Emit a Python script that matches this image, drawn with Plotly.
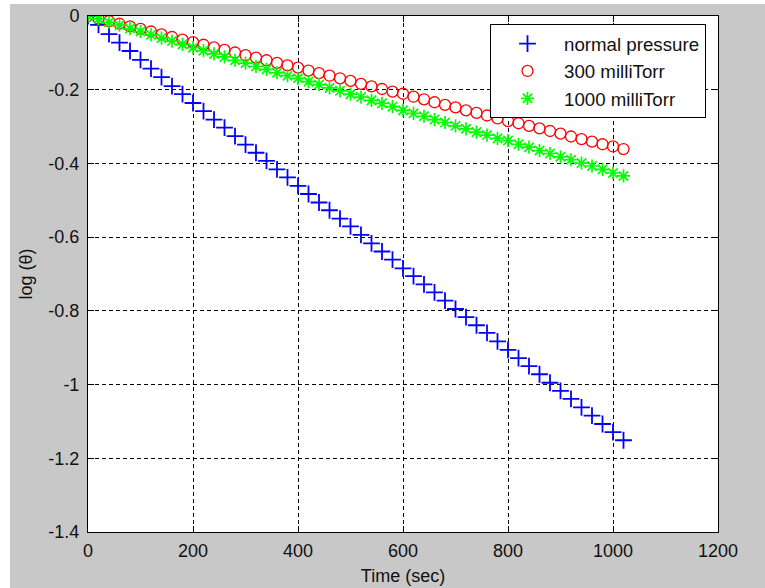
import plotly.graph_objects as go

# ---- data ----
time_sec = [0, 20, 40, 60, 80, 100, 120, 140, 160, 180,
            200, 220, 240, 260, 280, 300, 320, 340, 360, 380,
            400, 420, 440, 460, 480, 500, 520, 540, 560, 580,
            600, 620, 640, 660, 680, 700, 720, 740, 760, 780,
            800, 820, 840, 860, 880, 900, 920, 940, 960, 980,
            1000, 1020]

normal_pressure = [0.000, -0.024, -0.049, -0.072, -0.095, -0.119, -0.143, -0.166, -0.190, -0.212,
                   -0.236, -0.258, -0.281, -0.303, -0.326, -0.349, -0.371, -0.393, -0.416, -0.438,
                   -0.461, -0.483, -0.506, -0.527, -0.550, -0.571, -0.594, -0.617, -0.639, -0.661,
                   -0.685, -0.706, -0.728, -0.750, -0.772, -0.795, -0.817, -0.839, -0.860, -0.883,
                   -0.906, -0.928, -0.950, -0.972, -0.995, -1.017, -1.039, -1.062, -1.084, -1.107,
                   -1.129, -1.151]

milli_300 = [0.000, -0.007, -0.014, -0.021, -0.028, -0.035, -0.042, -0.050, -0.057, -0.064,
             -0.071, -0.078, -0.085, -0.092, -0.099, -0.106, -0.113, -0.120, -0.127, -0.134,
             -0.140, -0.148, -0.155, -0.162, -0.169, -0.176, -0.184, -0.191, -0.198, -0.205,
             -0.211, -0.219, -0.226, -0.234, -0.241, -0.248, -0.256, -0.263, -0.270, -0.278,
             -0.285, -0.291, -0.298, -0.305, -0.312, -0.319, -0.327, -0.334, -0.341, -0.348,
             -0.354, -0.361]

milli_1000 = [0.000, -0.008, -0.017, -0.025, -0.034, -0.042, -0.051, -0.060, -0.068, -0.077,
              -0.086, -0.094, -0.103, -0.111, -0.120, -0.128, -0.137, -0.145, -0.154, -0.162,
              -0.169, -0.178, -0.186, -0.195, -0.203, -0.212, -0.220, -0.229, -0.237, -0.246,
              -0.256, -0.264, -0.272, -0.281, -0.289, -0.298, -0.306, -0.315, -0.323, -0.332,
              -0.338, -0.348, -0.356, -0.365, -0.373, -0.382, -0.390, -0.399, -0.407, -0.416,
              -0.426, -0.434]

x_ticks = [0, 200, 400, 600, 800, 1000, 1200]
x_ticktext = ["0", "200", "400", "600", "800", "1000", "1200"]
y_ticks = [0, -0.2, -0.4, -0.6, -0.8, -1.0, -1.2, -1.4]
y_ticktext = ["0", "-0.2", "-0.4", "-0.6", "-0.8", "-1", "-1.2", "-1.4"]

series_names = ["normal pressure", "300 milliTorr", "1000 milliTorr"]

FONT = "Liberation Sans, Arial, sans-serif"
GRAY = "#c8c8c8"
TXT = "#111111"

fig = go.Figure()
fig.add_trace(go.Scatter(
    x=time_sec, y=normal_pressure, mode="markers", name=series_names[0],
    legendgroup="a",
    marker=dict(symbol="cross-thin", size=12, color="#0000ff",
                line=dict(color="#0000ff", width=1.8))))
fig.add_trace(go.Scatter(
    x=time_sec, y=milli_300, mode="markers", name=series_names[1],
    legendgroup="b",
    marker=dict(symbol="circle-open", size=11, color="#ff0000",
                line=dict(color="#ff0000", width=1.3))))
fig.add_trace(go.Scatter(
    x=time_sec, y=milli_1000, mode="markers", name=series_names[2],
    legendgroup="c",
    marker=dict(symbol="asterisk-open", size=11, color="#00ff00",
                line=dict(color="#00ff00", width=1.7))))

# full-window figure (body margin removed below)
W, H = 765, 588
L, R, T, B = 88, 47, 16, 56
pw, ph = W - L - R, H - T - B

def px_x(p):
    return (p - L) / pw

def px_y(p):
    return (H - B - p) / ph

axis_common = dict(
    showline=True, linecolor="#000000", linewidth=1, mirror="ticks",
    ticks="inside", ticklen=6, tickcolor="#000000", tickwidth=1,
    showgrid=True, gridcolor="#000000", gridwidth=1, griddash="4px,3px",
    zeroline=False, tickfont=dict(family=FONT, size=18, color=TXT),
    automargin=False, ticklabeloverflow="allow",
)

fig.update_layout(
    width=W, height=H,
    margin=dict(l=L, r=R, t=T, b=B, pad=0),
    paper_bgcolor=GRAY, plot_bgcolor="#ffffff",
    font=dict(family=FONT, size=18, color=TXT),
    xaxis=dict(range=[0, 1200], tickvals=x_ticks, ticktext=x_ticktext,
               title=dict(text="Time (sec)", standoff=9,
                          font=dict(family=FONT, size=18, color=TXT)),
               ticklabelstandoff=2, **axis_common),
    yaxis=dict(range=[-1.4, 0], tickvals=y_ticks, ticktext=y_ticktext,
               title=dict(text="log (θ)", standoff=11,
                          font=dict(family=FONT, size=18, color=TXT)),
               ticklabelstandoff=4, **axis_common),
    legend=dict(x=px_x(490), y=px_y(24), xanchor="left", yanchor="top",
                bgcolor="#ffffff", bordercolor="#000000", borderwidth=1,
                font=dict(family=FONT, size=18.7, color=TXT),
                tracegroupgap=0, itemwidth=63),
    showlegend=True,
    shapes=[
        dict(type="rect", xref="paper", yref="paper", layer="above",
             x0=px_x(0), x1=px_x(10), y0=px_y(588), y1=px_y(0),
             fillcolor="#ffffff", line=dict(width=0)),
        dict(type="rect", xref="paper", yref="paper", layer="above",
             x0=px_x(0), x1=px_x(765), y0=px_y(4), y1=px_y(0),
             fillcolor="#ffffff", line=dict(width=0)),
    ],
)

fig.write_html("out.html",
               config={"displayModeBar": False},
               post_script="document.body.style.margin='0';")
